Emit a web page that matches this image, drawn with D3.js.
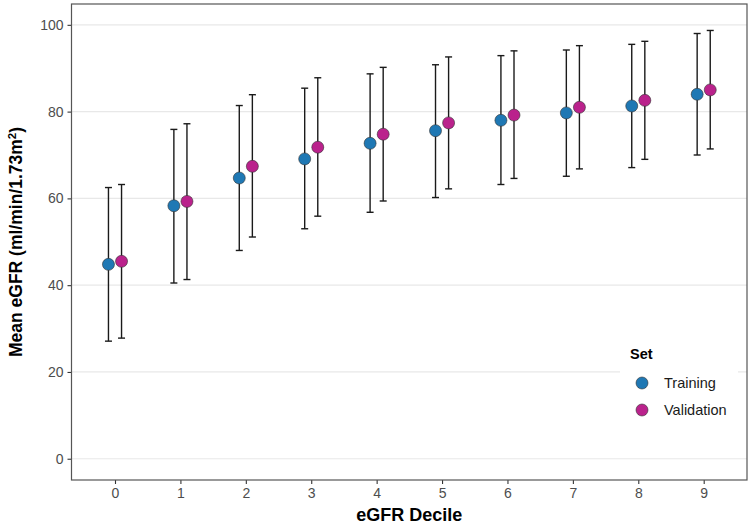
<!DOCTYPE html>
<html lang="en">
<head>
<meta charset="UTF-8">
<title>Mean eGFR by Decile</title>
<script src="https://d3js.org/d3.v7.min.js"></script>
<style>
  body { margin: 0; background: #fff; }
  text { font-family: "Liberation Sans", Arial, sans-serif; }
</style>
</head>
<body>
<svg width="750" height="528"></svg>
<script>
// data
const deciles = [0, 1, 2, 3, 4, 5, 6, 7, 8, 9];
const sets = ["Training", "Validation"];
const trainMean = [44.8, 58.3, 64.7, 69.1, 72.7, 75.6, 78.0, 79.7, 81.3, 84.0];
const trainLow  = [27.1, 40.5, 48.0, 53.0, 56.8, 60.2, 63.2, 65.1, 67.1, 70.0];
const trainHigh = [62.5, 75.9, 81.4, 85.4, 88.7, 90.8, 92.9, 94.2, 95.5, 98.0];
const validMean = [45.5, 59.3, 67.4, 71.8, 74.8, 77.4, 79.2, 81.0, 82.6, 85.0];
const validLow  = [27.8, 41.3, 51.1, 55.9, 59.4, 62.2, 64.6, 66.8, 69.0, 71.4];
const validHigh = [63.2, 77.2, 83.9, 87.8, 90.2, 92.6, 94.0, 95.2, 96.2, 98.7];
const yTicks = [0, 20, 40, 60, 80, 100];

const colors = { Training: "#1F78B4", Validation: "#BA228C" };
const dodge = { Training: -0.1, Validation: 0.1 };

const rows = [];
deciles.forEach((d, i) => {
  rows.push({ set: "Training", decile: d, mean: trainMean[i], low: trainLow[i], high: trainHigh[i] });
  rows.push({ set: "Validation", decile: d, mean: validMean[i], low: validLow[i], high: validHigh[i] });
});

const panel = { left: 71.5, right: 747, top: 4, bottom: 480 };
const svg = d3.select("svg");

const x = d3.scaleLinear().domain([-0.665, 9.662]).range([panel.left, panel.right]);
const y = d3.scaleLinear().domain([-4.9, 104.8]).range([panel.bottom, panel.top]);

// gridlines
svg.append("g")
  .selectAll("line")
  .data(yTicks)
  .enter().append("line")
    .attr("x1", panel.left).attr("x2", panel.right)
    .attr("y1", d => y(d)).attr("y2", d => y(d))
    .attr("stroke", "#e8e8e8").attr("stroke-width", 1.2);

// axes
const yAxis = svg.append("g")
  .attr("transform", `translate(${panel.left},0)`)
  .call(d3.axisLeft(y).tickValues(yTicks).tickSize(4).tickPadding(4));
const xAxis = svg.append("g")
  .attr("transform", `translate(0,${panel.bottom})`)
  .call(d3.axisBottom(x).tickValues(deciles).tickSize(4).tickPadding(4).tickFormat(d3.format("d")));
[yAxis, xAxis].forEach(a => {
  a.select(".domain").remove();
  a.selectAll(".tick line").attr("stroke", "#333").attr("stroke-width", 1.1);
  a.selectAll(".tick text").attr("fill", "#4d4d4d").style("font-size", "14px")
    .style("font-family", "'Liberation Sans', Arial, sans-serif");
});

// panel border
svg.append("rect")
  .attr("x", panel.left).attr("y", panel.top)
  .attr("width", panel.right - panel.left).attr("height", panel.bottom - panel.top)
  .attr("fill", "none").attr("stroke", "#555").attr("stroke-width", 1.2);

// error bars
const bars = svg.append("g").attr("stroke", "#1a1a1a").attr("stroke-width", 1.4);
const cx = d => x(d.decile + dodge[d.set]);
bars.selectAll(".bar").data(rows).enter().append("line")
  .attr("x1", cx).attr("x2", cx)
  .attr("y1", d => y(d.low)).attr("y2", d => y(d.high));
bars.selectAll(".capTop").data(rows).enter().append("line")
  .attr("x1", d => cx(d) - 3.5).attr("x2", d => cx(d) + 3.5)
  .attr("y1", d => y(d.high)).attr("y2", d => y(d.high));
bars.selectAll(".capLow").data(rows).enter().append("line")
  .attr("x1", d => cx(d) - 3.5).attr("x2", d => cx(d) + 3.5)
  .attr("y1", d => y(d.low)).attr("y2", d => y(d.low));

// points
svg.append("g").selectAll("circle").data(rows).enter().append("circle")
  .attr("cx", cx).attr("cy", d => y(d.mean)).attr("r", 6)
  .attr("fill", d => colors[d.set]).attr("stroke", "#333").attr("stroke-width", 0.6);

// axis titles
svg.append("text")
  .attr("x", (panel.left + panel.right) / 2).attr("y", 521)
  .attr("text-anchor", "middle").style("font-size", "18px").style("font-weight", "bold")
  .text("eGFR Decile");
const yt = svg.append("text")
  .attr("transform", `translate(22,${(panel.top + panel.bottom) / 2}) rotate(-90)`)
  .attr("text-anchor", "middle").style("font-size", "17.5px").style("font-weight", "bold");
yt.append("tspan").text("Mean eGFR (ml/min/1.73m");
yt.append("tspan").attr("dy", -6).style("font-size", "11.5px").text("2");
yt.append("tspan").attr("dy", 6).text(")");

// legend
const lg = svg.append("g").attr("transform", "translate(620,336)");
lg.append("rect").attr("width", 118).attr("height", 92).attr("fill", "#fff");
lg.append("text").attr("x", 10).attr("y", 23).style("font-size", "14.5px").style("font-weight", "bold").text("Set");
sets.forEach((s, i) => {
  const g = lg.append("g").attr("transform", `translate(0,${47 + i * 27})`);
  g.append("circle").attr("cx", 22).attr("cy", 0).attr("r", 6)
    .attr("fill", colors[s]).attr("stroke", "#333").attr("stroke-width", 0.6);
  g.append("text").attr("x", 44).attr("y", 5).style("font-size", "14.5px").attr("fill", "#1a1a1a").text(s);
});
</script>
</body>
</html>
